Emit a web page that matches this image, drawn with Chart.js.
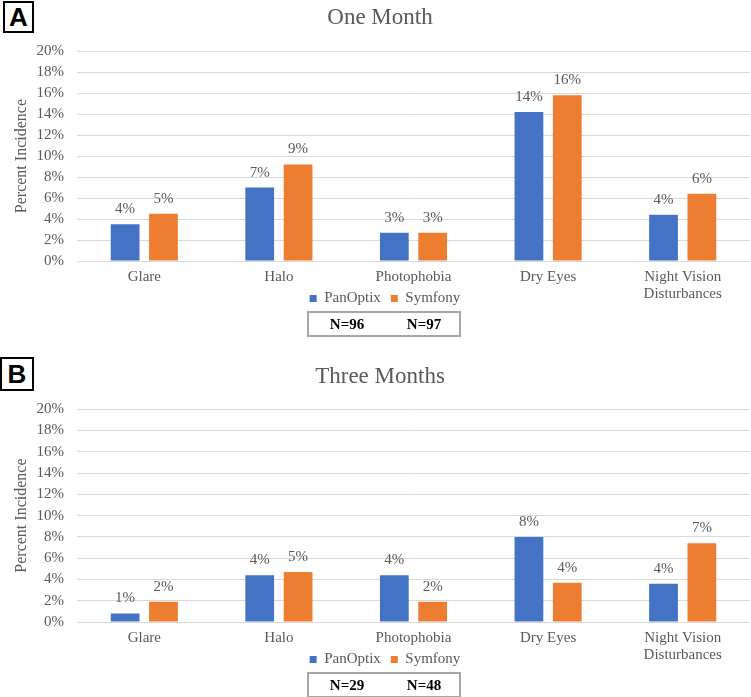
<!DOCTYPE html>
<html>
<head>
<meta charset="utf-8">
<script src="https://cdn.jsdelivr.net/npm/chart.js@4/dist/chart.umd.min.js"></script>
<style>
  body { margin: 0; width: 751px; height: 697px; overflow: hidden; background: #fff; position: relative; }
  canvas { position: absolute; left: 0; }
  .panel-tag {
    position: absolute; box-sizing: border-box; border: 2px solid #000;
    font: bold 26px "Liberation Sans", Arial, sans-serif; color: #000;
    display: flex; align-items: center; justify-content: center;
  }
  .n-box {
    position: absolute; box-sizing: border-box; left: 307px; width: 154px; height: 26px;
    border: 2px solid #a6a6a6; font: bold 15px "Liberation Serif", "Times New Roman", serif; color: #000;
  }
  .n-box span { position: absolute; top: 3px; transform: translateX(-50%); }
</style>
</head>
<body>
<div class="panel-tag" style="left:3px;top:1px;width:31px;height:32px;">A</div>
<div class="panel-tag" style="left:0px;top:357px;width:34px;height:34px;">B</div>
<canvas id="chartA" width="751" height="342" style="top:0px"></canvas>
<canvas id="chartB" width="751" height="344" style="top:359px"></canvas>
<div class="n-box" id="nA" style="top:311px;"></div>
<div class="n-box" id="nB" style="top:672px;"></div>
<script>
// Data (percent incidence)
const categories = ['Glare', 'Halo', 'Photophobia', 'Dry Eyes', ['Night Vision', 'Disturbances']];
const seriesNames = ['PanOptix', 'Symfony'];
const oneMonthPanOptix = [3.5, 7.0, 2.7, 14.2, 4.4];
const oneMonthSymfony = [4.5, 9.2, 2.7, 15.8, 6.4];
const threeMonthPanOptix = [0.8, 4.4, 4.4, 8.0, 3.6];
const threeMonthSymfony = [1.9, 4.7, 1.9, 3.7, 7.4];
const oneMonthN = ['N=96', 'N=97'];
const threeMonthN = ['N=29', 'N=48'];

const colors = { pan: '#4472C4', sym: '#ED7D31', text: '#595959', grid: '#d9d9d9' };
const serif = '"Liberation Serif", "Times New Roman", serif';

Chart.defaults.font.family = serif;
Chart.defaults.color = colors.text;

// draws the rounded % above each bar
const valueLabels = {
  id: 'valueLabels',
  afterDatasetsDraw(chart) {
    const ctx = chart.ctx;
    ctx.save();
    ctx.font = '15px ' + serif;
    ctx.fillStyle = colors.text;
    ctx.textAlign = 'center';
    ctx.textBaseline = 'middle';
    chart.data.datasets.forEach((ds, i) => {
      chart.getDatasetMeta(i).data.forEach((bar, j) => {
        ctx.fillText(Math.round(ds.data[j]) + '%', bar.x, bar.y - 15);
      });
    });
    ctx.restore();
  }
};

// title and legend sit a little right of centre in the original,
// and the legend overlaps the second line of the category labels
const nudge = {
  id: 'nudge',
  afterLayout(chart) {
    chart.titleBlock.left += 5; chart.titleBlock.right += 5;
    const lg = chart.legend;
    lg.left += 10; lg.right += 10;
    lg.top -= 26; lg.bottom -= 26;
  }
};

const makeChart = (id, title, pan, sym, titlePadBottom) => {
  return new Chart(document.getElementById(id), {
    type: 'bar',
    data: {
      labels: categories,
      datasets: [
        { label: seriesNames[0], data: pan, backgroundColor: colors.pan },
        { label: seriesNames[1], data: sym, backgroundColor: colors.sym }
      ]
    },
    options: {
      responsive: false,
      animation: false,
      devicePixelRatio: 1,
      layout: { padding: { left: 0, right: 1, top: 0, bottom: 0 } },
      datasets: { bar: { barPercentage: 0.75, categoryPercentage: 0.57 } },
      plugins: {
        title: {
          display: true, text: title, color: colors.text,
          font: { size: 23, weight: 'normal', family: serif },
          padding: { top: 4, bottom: titlePadBottom }
        },
        legend: {
          position: 'bottom',
          labels: { boxWidth: 7, boxHeight: 7, color: colors.text, font: { size: 15, family: serif } }
        },
        tooltip: { enabled: false }
      },
      scales: {
        x: {
          grid: { display: false, drawTicks: false },
          border: { display: false },
          ticks: { padding: 8, maxRotation: 0, autoSkip: false, color: colors.text,
                   font: { size: 15, lineHeight: 1.13 } },
          afterFit: (scale) => { scale.height = 46; }
        },
        y: {
          min: 0, max: 20,
          grid: { color: colors.grid, lineWidth: 1, drawTicks: false },
          border: { display: false },
          ticks: { stepSize: 2, autoSkip: false, padding: 13, color: colors.text, font: { size: 15 },
                   callback: (v) => v + '%' },
          title: { display: true, text: 'Percent Incidence', color: colors.text,
                   font: { size: 16 }, padding: { top: 12, bottom: 0 } },
          afterFit: (scale) => { scale.width = 77; }
        }
      }
    },
    plugins: [valueLabels, nudge]
  });
};

makeChart('chartA', 'One Month', oneMonthPanOptix, oneMonthSymfony, 19.6);
makeChart('chartB', 'Three Months', threeMonthPanOptix, threeMonthSymfony, 18.6);

const fillN = (id, labels) => {
  const box = document.getElementById(id);
  [38, 115].forEach((x, i) => {
    const s = document.createElement('span');
    s.style.left = x + 'px';
    s.textContent = labels[i];
    box.appendChild(s);
  });
};
fillN('nA', oneMonthN);
fillN('nB', threeMonthN);
</script>
</body>
</html>
